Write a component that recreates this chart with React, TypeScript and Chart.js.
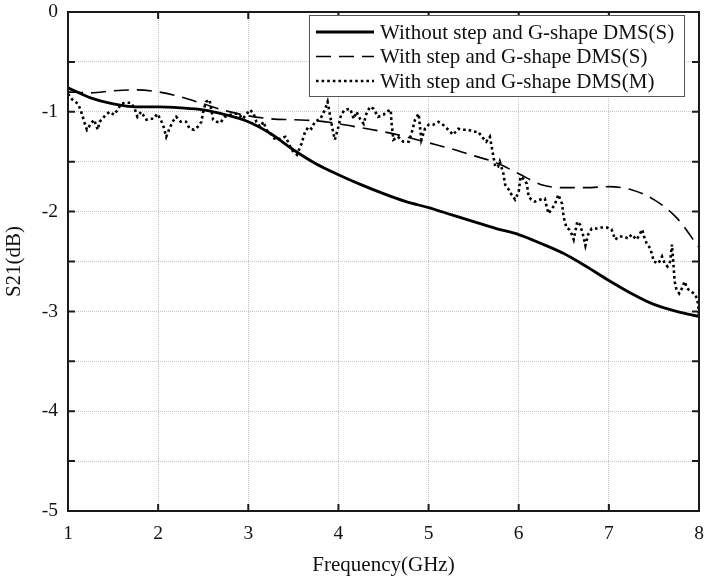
import React, { useEffect, useRef } from "react";
import { Chart, registerables } from "chart.js";

Chart.register(...registerables);

const seriesLabels = [
  "Without step and G-shape DMS(S)",
  "With step and G-shape DMS(S)",
  "With step and G-shape DMS(M)",
];

const xTicks = [1, 2, 3, 4, 5, 6, 7, 8];
const yTickLabels = ["0", "-1", "-2", "-3", "-4", "-5"];

const freqS = [1, 1.25, 1.5, 1.75, 2, 2.25, 2.5, 2.75, 3, 3.25, 3.5, 3.75, 4, 4.25, 4.5, 4.75, 5, 5.25, 5.5, 5.75, 6, 6.25, 6.5, 6.75, 7, 7.25, 7.5, 7.75, 8];

const s21Without = [-0.76, -0.86, -0.92, -0.95, -0.95, -0.96, -0.98, -1.03, -1.1, -1.22, -1.38, -1.52, -1.63, -1.73, -1.82, -1.9, -1.96, -2.03, -2.1, -2.17, -2.23, -2.32, -2.42, -2.55, -2.69, -2.82, -2.93, -3.0, -3.05];

const s21WithS = [-0.8, -0.81, -0.79, -0.78, -0.8, -0.85, -0.92, -0.99, -1.04, -1.07, -1.08, -1.09, -1.12, -1.16, -1.2, -1.25, -1.31, -1.37, -1.44, -1.51, -1.62, -1.73, -1.76, -1.76, -1.75, -1.78, -1.88, -2.06, -2.36];

const freqM = [1.0, 1.05, 1.11, 1.14, 1.18, 1.21, 1.26, 1.29, 1.33, 1.35, 1.4, 1.46, 1.51, 1.55, 1.59, 1.64, 1.7, 1.74, 1.77, 1.81, 1.87, 1.9, 1.95, 1.99, 2.03, 2.06, 2.09, 2.12, 2.16, 2.2, 2.25, 2.31, 2.35, 2.4, 2.44, 2.48, 2.5, 2.53, 2.57, 2.61, 2.65, 2.69, 2.74, 2.83, 2.89, 2.94, 3.02, 3.06, 3.09, 3.13, 3.17, 3.2, 3.26, 3.3, 3.35, 3.41, 3.44, 3.48, 3.54, 3.59, 3.63, 3.67, 3.7, 3.74, 3.8, 3.85, 3.88, 3.91, 3.94, 3.96, 4.0, 4.03, 4.07, 4.13, 4.17, 4.2, 4.24, 4.28, 4.31, 4.35, 4.39, 4.44, 4.5, 4.53, 4.58, 4.59, 4.61, 4.66, 4.72, 4.78, 4.81, 4.85, 4.89, 4.92, 4.96, 5.0, 5.05, 5.11, 5.16, 5.22, 5.27, 5.33, 5.38, 5.44, 5.5, 5.55, 5.61, 5.64, 5.68, 5.71, 5.74, 5.77, 5.79, 5.83, 5.85, 5.89, 5.92, 5.96, 6.0, 6.02, 6.05, 6.09, 6.11, 6.14, 6.18, 6.24, 6.29, 6.31, 6.33, 6.37, 6.4, 6.44, 6.48, 6.5, 6.53, 6.56, 6.59, 6.61, 6.65, 6.68, 6.71, 6.74, 6.77, 6.81, 6.87, 6.92, 6.98, 7.03, 7.07, 7.11, 7.16, 7.22, 7.25, 7.31, 7.37, 7.39, 7.42, 7.46, 7.5, 7.55, 7.59, 7.62, 7.65, 7.68, 7.7, 7.72, 7.73, 7.75, 7.78, 7.81, 7.84, 7.87, 7.91, 7.96, 7.99, 8.0];

const s21WithM = [-0.82, -0.88, -0.92, -0.98, -1.1, -1.18, -1.11, -1.08, -1.18, -1.1, -1.05, -1.0, -1.03, -0.98, -0.92, -0.91, -0.91, -0.97, -1.05, -1.0, -1.08, -1.07, -1.07, -1.02, -1.08, -1.15, -1.25, -1.18, -1.1, -1.05, -1.1, -1.1, -1.17, -1.18, -1.15, -1.1, -1.0, -0.9, -0.88, -1.08, -1.1, -1.11, -1.05, -1.02, -1.02, -1.07, -0.98, -1.02, -1.1, -1.15, -1.1, -1.18, -1.23, -1.28, -1.27, -1.25, -1.3, -1.38, -1.43, -1.32, -1.2, -1.15, -1.17, -1.1, -1.07, -0.98, -0.9, -1.05, -1.2, -1.28, -1.15, -1.03, -0.98, -0.97, -1.07, -1.0, -1.07, -1.12, -1.02, -0.95, -0.97, -1.05, -1.03, -1.0, -0.98, -1.12, -1.28, -1.25, -1.3, -1.3, -1.22, -1.08, -1.02, -1.28, -1.17, -1.13, -1.13, -1.1, -1.13, -1.18, -1.23, -1.17, -1.18, -1.18, -1.2, -1.2, -1.27, -1.3, -1.25, -1.4, -1.55, -1.55, -1.5, -1.62, -1.73, -1.78, -1.83, -1.88, -1.8, -1.65, -1.67, -1.72, -1.85, -1.88, -1.9, -1.88, -1.87, -1.95, -2.02, -1.97, -1.93, -1.83, -1.92, -2.06, -2.16, -2.18, -2.23, -2.28, -2.1, -2.13, -2.22, -2.34, -2.23, -2.17, -2.17, -2.16, -2.16, -2.18, -2.28, -2.25, -2.25, -2.27, -2.23, -2.28, -2.18, -2.25, -2.32, -2.37, -2.5, -2.52, -2.45, -2.52, -2.55, -2.5, -2.33, -2.57, -2.7, -2.78, -2.82, -2.77, -2.7, -2.77, -2.8, -2.83, -2.92, -3.05];

const FONT = '"Liberation Serif", "Times New Roman", serif';

const framePlugin = {
  id: "frameAndLegend",
  afterDraw(chart: any) {
    const { ctx, chartArea } = chart;
    const { left, right, top, bottom } = chartArea;
    const xs = chart.scales.x;
    const ys = chart.scales.y;
    ctx.save();
    ctx.setLineDash([]);
    ctx.strokeStyle = "#1a1a1a";
    ctx.lineWidth = 2;
    ctx.strokeRect(left, top, right - left, bottom - top);
    for (let v = -5; v <= 0.001; v += 0.5) {
      const py = ys.getPixelForValue(v);
      ctx.beginPath();
      ctx.moveTo(left, py);
      ctx.lineTo(left + 7, py);
      ctx.moveTo(right, py);
      ctx.lineTo(right - 7, py);
      ctx.stroke();
    }
    for (const v of xTicks) {
      const px = xs.getPixelForValue(v);
      ctx.beginPath();
      ctx.moveTo(px, bottom);
      ctx.lineTo(px, bottom - 7);
      ctx.moveTo(px, top);
      ctx.lineTo(px, top + 7);
      ctx.stroke();
    }

    // legend
    const bx = 309, by = 15, bw = 375, bh = 81;
    ctx.fillStyle = "#ffffff";
    ctx.fillRect(bx, by, bw, bh);
    ctx.strokeStyle = "#555555";
    ctx.lineWidth = 1;
    ctx.strokeRect(bx + 0.5, by + 0.5, bw, bh);
    const rows = [32, 56.5, 81];
    chart.data.datasets.forEach((ds: any, i: number) => {
      const yy = rows[i];
      ctx.save();
      ctx.strokeStyle = "#000";
      ctx.lineWidth = ds.borderWidth;
      ctx.lineCap = "butt";
      ctx.setLineDash(ds.borderDash || []);
      ctx.beginPath();
      ctx.moveTo(316, yy);
      ctx.lineTo(374, yy);
      ctx.stroke();
      ctx.restore();
      ctx.fillStyle = "#111";
      ctx.font = `21px ${FONT}`;
      ctx.textBaseline = "middle";
      ctx.textAlign = "left";
      ctx.fillText(ds.label, 380, yy + 1);
    });
    ctx.restore();
  },
};

export default function App() {
  const ref = useRef<HTMLCanvasElement | null>(null);
  useEffect(() => {
    document.body.style.margin = "0";
    const canvas = ref.current!;
    const chart = new Chart(canvas, {
      type: "line",
      data: {
        datasets: [
          {
            label: seriesLabels[0],
            data: freqS.map((f, i) => ({ x: f, y: s21Without[i] })),
            borderColor: "#000",
            borderWidth: 2.8,
            pointRadius: 0,
            cubicInterpolationMode: "monotone",
            fill: false,
          },
          {
            label: seriesLabels[1],
            data: freqS.map((f, i) => ({ x: f, y: s21WithS[i] })),
            borderColor: "#000",
            borderWidth: 1.6,
            borderDash: [15, 8],
            pointRadius: 0,
            cubicInterpolationMode: "monotone",
            fill: false,
          },
          {
            label: seriesLabels[2],
            data: freqM.map((f, i) => ({ x: f, y: s21WithM[i] })),
            borderColor: "#000",
            borderWidth: 2.6,
            borderDash: [2.6, 3],
            borderCapStyle: "butt",
            pointRadius: 0,
            tension: 0,
            fill: false,
          },
        ],
      } as any,
      options: {
        responsive: false,
        animation: false,
        events: [],
        layout: { padding: { top: 12, right: 5, left: 0, bottom: 0 } },
        plugins: { legend: { display: false }, tooltip: { enabled: false } },
        scales: {
          x: {
            type: "linear",
            min: 1,
            max: 8,
            afterFit: (s: any) => {
              s.height = 67;
              s.paddingLeft = 0;
              s.paddingRight = 0;
            },
            ticks: {
              stepSize: 1,
              padding: 11,
              color: "#111",
              font: { family: FONT, size: 19.5 },
              callback: (v: any) => (xTicks.includes(v) ? String(v) : ""),
              maxRotation: 0,
              autoSkip: false,
            },
            grid: { color: "#c4c4c4", lineWidth: 1, drawTicks: false },
            border: { display: false, dash: [1, 1] },
            title: {
              display: true,
              text: "Frequency(GHz)",
              color: "#111",
              font: { family: FONT, size: 21 },
              padding: { top: 0, bottom: 0 },
            },
          },
          y: {
            type: "linear",
            min: -5,
            max: 0,
            afterFit: (s: any) => {
              s.width = 68;
              s.paddingTop = 0;
              s.paddingBottom = 0;
            },
            ticks: {
              stepSize: 0.5,
              padding: 10,
              color: "#111",
              font: { family: FONT, size: 19.5 },
              autoSkip: false,
              callback: (v: any) => {
                const n = Number(v);
                if (Math.abs(n - Math.round(n)) > 1e-6) return "";
                const lbl = String(Math.round(n) === 0 ? 0 : Math.round(n));
                return yTickLabels.includes(lbl) ? lbl : "";
              },
            },
            grid: { color: "#c4c4c4", lineWidth: 1, drawTicks: false },
            border: { display: false, dash: [1, 1] },
            title: {
              display: true,
              text: "S21(dB)",
              color: "#111",
              font: { family: FONT, size: 21 },
              padding: { top: 1.5, bottom: 0 },
            },
          },
        },
      } as any,
      plugins: [framePlugin],
    });
    return () => chart.destroy();
  }, []);
  return <canvas ref={ref} width={704} height={578} style={{ display: "block" }} />;
}
